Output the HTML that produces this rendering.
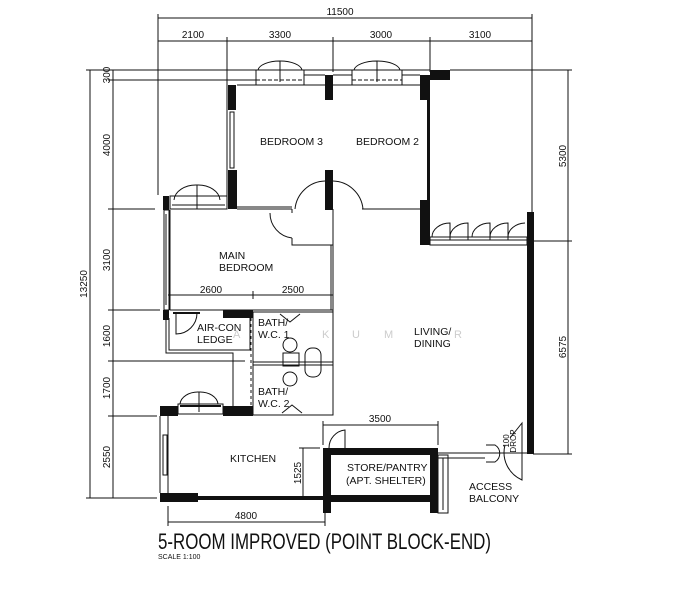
<!DOCTYPE html>
<html><head><meta charset="utf-8"><style>
html,body{margin:0;padding:0;background:#fff;}
svg{display:block;}
text{font-family:"Liberation Sans",sans-serif;fill:#111;}
</style></head><body>
<svg width="687" height="600" viewBox="0 0 687 600" xmlns="http://www.w3.org/2000/svg">
<g stroke="#111" stroke-width="1" fill="none">
<!-- top dims -->
<line x1="158" y1="18" x2="532" y2="18"/>
<line x1="158" y1="14" x2="158" y2="195"/>
<line x1="532" y1="14" x2="532" y2="212"/>
<line x1="158" y1="41" x2="532" y2="41"/>
<line x1="227" y1="37" x2="227" y2="80"/>
<line x1="333" y1="37" x2="333" y2="72"/>
<line x1="430" y1="37" x2="430" y2="72"/>
<!-- left dims -->
<line x1="90" y1="70" x2="90" y2="498"/>
<line x1="113" y1="70" x2="113" y2="498"/>
<line x1="86" y1="70" x2="430" y2="70"/>
<line x1="450" y1="70" x2="572" y2="70"/>
<line x1="108" y1="80" x2="227" y2="80"/>
<line x1="108" y1="209" x2="155" y2="209"/>
<line x1="108" y1="310" x2="160" y2="310"/>
<line x1="108" y1="361" x2="245" y2="361"/>
<line x1="108" y1="416" x2="157" y2="416"/>
<line x1="86" y1="498" x2="157" y2="498"/>
<!-- right dims -->
<line x1="568" y1="70" x2="568" y2="454"/>
<line x1="527" y1="241" x2="572" y2="241"/>
<line x1="533" y1="454" x2="572" y2="454"/>
<!-- 2600/2500 -->
<line x1="168" y1="295" x2="333" y2="295"/>
<line x1="253" y1="291" x2="253" y2="299"/>
<!-- 3500 -->
<line x1="323" y1="425" x2="438" y2="425"/>
<line x1="323" y1="421" x2="323" y2="445"/>
<line x1="438" y1="421" x2="438" y2="445"/>
<!-- 1525 -->
<line x1="303" y1="448" x2="303" y2="498"/>
<line x1="299" y1="448" x2="320" y2="448"/>
<!-- 4800 -->
<line x1="168" y1="522" x2="325" y2="522"/>
<line x1="168" y1="506" x2="168" y2="526"/>
<line x1="325" y1="506" x2="325" y2="526"/>
</g>
<!-- walls -->
<g fill="#111">
<rect x="228" y="85" width="8" height="25"/>
<rect x="228" y="170" width="9" height="39"/>
<rect x="325" y="75" width="8" height="25"/>
<rect x="325" y="170" width="8" height="40"/>
<rect x="420" y="75" width="10" height="25"/>
<rect x="427" y="100" width="3" height="100"/>
<rect x="420" y="200" width="10" height="45"/>
<rect x="430" y="70" width="20" height="10"/>
<rect x="527" y="212" width="7" height="242"/>
<rect x="163" y="196" width="6" height="14"/>
<rect x="163" y="310" width="6" height="10"/>
<rect x="223" y="310" width="30" height="8"/>
<rect x="160" y="406" width="18" height="10"/>
<rect x="223" y="406" width="30" height="10"/>
<rect x="160" y="493" width="38" height="9"/>
<rect x="198" y="496" width="127" height="4"/>
<rect x="323" y="448" width="8" height="65"/>
<rect x="430" y="448" width="8" height="65"/>
<rect x="323" y="448" width="115" height="7"/>
<rect x="323" y="495" width="115" height="7"/>
</g>
<g stroke="#111" stroke-width="1" fill="none">
<!-- bedroom outlines -->
<polyline points="227,209 227,80 256,80"/>
<polyline points="304,80 304,75 325,75"/>
<polyline points="333,75 352,75 352,80"/>
<polyline points="402,80 402,75 420,75"/>
<line x1="237" y1="85" x2="325" y2="85"/>
<line x1="333" y1="85" x2="420" y2="85"/>
<rect x="230" y="112" width="4" height="56"/>
<line x1="237" y1="209" x2="292" y2="209"/>
<line x1="362" y1="209" x2="420" y2="209"/>
<line x1="237" y1="207" x2="292" y2="207"/>
<!-- door arcs bedrooms -->
<path d="M325,181 A31,31 0 0 0 295,209"/>
<path d="M333,181 A31,31 0 0 1 363,209"/>
<path d="M270,213 A25,25 0 0 0 292,238"/>
<polyline points="292,209 292,213"/>
<polyline points="292,238 292,245 333,245"/>
<!-- windows top -->
<rect x="256" y="70" width="48" height="15"/>
<line x1="256" y1="80" x2="304" y2="80" stroke-dasharray="4,2"/>
<path d="M258,70 A22,10 0 0 1 280,61 L280,82"/>
<path d="M302,70 A22,10 0 0 0 280,61"/>
<rect x="352" y="70" width="50" height="15"/>
<line x1="352" y1="80" x2="402" y2="80" stroke-dasharray="4,2"/>
<path d="M354,70 A23,10 0 0 1 377,61 L377,82"/>
<path d="M400,70 A23,10 0 0 0 377,61"/>
<!-- balcony windows -->
<rect x="430" y="237" width="97" height="8"/>
<line x1="430" y1="240" x2="527" y2="240"/>
<path d="M432,237 A18,14 0 0 1 450,223 L450,240 M450,237 A18,14 0 0 1 468,223 L468,240 M472,237 A18,14 0 0 1 490,223 L490,240 M490,237 A18,14 0 0 1 508,223 L508,240 M508,237 A18,14 0 0 1 525,223"/>
<!-- main bedroom -->
<rect x="170" y="196" width="57" height="13"/>
<line x1="172" y1="205" x2="225" y2="205"/>
<path d="M174,200 A22,16 0 0 1 197,185 L197,209 M220,200 A22,16 0 0 0 197,185"/>
<rect x="164" y="210" width="5" height="100"/>
<line x1="166" y1="214" x2="166" y2="305"/>
<line x1="170" y1="210" x2="170" y2="310"/>
<line x1="333" y1="209" x2="333" y2="415"/>
<line x1="331" y1="245" x2="331" y2="310"/>
<line x1="170" y1="310" x2="333" y2="310"/>
<!-- aircon ledge -->
<polyline points="169,318 169,350 250,350 250,318"/>
<polyline points="166,318 166,353 233,353 233,406"/>
<line x1="173" y1="313" x2="200" y2="313" stroke-width="2"/>
<path d="M176,313 L176,334 A21,21 0 0 0 197,313"/>
<!-- baths -->
<rect x="253" y="312" width="80" height="103"/>
<line x1="253" y1="362" x2="333" y2="362"/>
<line x1="253" y1="365" x2="333" y2="365"/>
<line x1="251" y1="312" x2="251" y2="415" stroke-dasharray="3,3"/>
<polyline points="280,314 290,322 300,314"/>
<polyline points="282,413 292,405 302,413"/>
<circle cx="290" cy="345" r="7"/>
<rect x="283" y="353" width="16" height="13"/>
<circle cx="290" cy="379" r="7"/>
<rect x="305" y="348" width="16" height="29" rx="7"/>
<!-- kitchen -->
<rect x="178" y="404" width="45" height="10"/>
<line x1="180" y1="406" x2="221" y2="406" stroke-width="2"/>
<path d="M180,404 A18,13 0 0 1 199,392 L199,412 M218,404 A18,13 0 0 0 199,392"/>
<line x1="160" y1="416" x2="160" y2="493"/>
<line x1="168" y1="416" x2="168" y2="493"/>
<rect x="163" y="435" width="4" height="40"/>
<line x1="253" y1="415" x2="333" y2="415"/>
<!-- store door -->
<path d="M345,448 L345,430 A18,18 0 0 0 329,448"/>
<line x1="345" y1="430" x2="345" y2="452"/>
<!-- access balcony -->
<line x1="438" y1="453" x2="527" y2="453"/>
<line x1="438" y1="458" x2="485" y2="458"/>
<rect x="438" y="455" width="10" height="58"/>
<line x1="443" y1="458" x2="443" y2="510"/>
<path d="M486,445 L495,445 A10,10 0 0 1 495,462 L486,462"/>
<path d="M510,438 L522,423 L522,480 A30,30 0 0 1 505,445"/>
</g>
<!-- labels -->
<g font-size="10">
<text x="340" y="15" text-anchor="middle">11500</text>
<text x="193" y="38" text-anchor="middle">2100</text>
<text x="280" y="38" text-anchor="middle">3300</text>
<text x="381" y="38" text-anchor="middle">3000</text>
<text x="480" y="38" text-anchor="middle">3100</text>
<text x="211" y="293" text-anchor="middle">2600</text>
<text x="293" y="293" text-anchor="middle">2500</text>
<text x="380" y="422" text-anchor="middle">3500</text>
<text x="246" y="519" text-anchor="middle">4800</text>
</g>
<g font-size="10" text-anchor="middle">
<text transform="translate(110,75) rotate(-90)">300</text>
<text transform="translate(110,145) rotate(-90)">4000</text>
<text transform="translate(110,260) rotate(-90)">3100</text>
<text transform="translate(110,336) rotate(-90)">1600</text>
<text transform="translate(110,388) rotate(-90)">1700</text>
<text transform="translate(110,457) rotate(-90)">2550</text>
<text transform="translate(87,284) rotate(-90)">13250</text>
<text transform="translate(566,156) rotate(-90)">5300</text>
<text transform="translate(566,347) rotate(-90)">6575</text>
<text transform="translate(301,473) rotate(-90)">1525</text>
<text transform="translate(509,441) rotate(-90)" font-size="8">100</text>
<text transform="translate(516,441) rotate(-90)" font-size="8">DROP</text>
</g>
<g font-size="10.5">
<text x="260" y="145">BEDROOM 3</text>
<text x="356" y="145">BEDROOM 2</text>
<text x="219" y="259">MAIN</text>
<text x="219" y="271">BEDROOM</text>
<text x="197" y="331">AIR-CON</text>
<text x="197" y="343">LEDGE</text>
<text x="258" y="326">BATH/</text>
<text x="258" y="338">W.C.  1</text>
<text x="258" y="395">BATH/</text>
<text x="258" y="407">W.C.  2</text>
<text x="414" y="335">LIVING/</text>
<text x="414" y="347">DINING</text>
<text x="230" y="462">KITCHEN</text>
<text x="347" y="471">STORE/PANTRY</text>
<text x="346" y="484">(APT. SHELTER)</text>
<text x="469" y="490">ACCESS</text>
<text x="469" y="502">BALCONY</text>
</g>
<g font-size="11" fill="#ccc" style="fill:#ccc">
<text x="233" y="338" style="fill:#ccc">A</text>
<text x="322" y="338" style="fill:#ccc">K</text>
<text x="352" y="338" style="fill:#ccc">U</text>
<text x="384" y="338" style="fill:#ccc">M</text>
<text x="454" y="338" style="fill:#ccc">R</text>
</g>
<text x="158" y="549" font-size="22" textLength="333" lengthAdjust="spacingAndGlyphs" style="font-weight:normal">5-ROOM  IMPROVED  (POINT  BLOCK-END)</text>
<text x="158" y="559" font-size="7">SCALE  1:100</text>
</svg>
</body></html>
